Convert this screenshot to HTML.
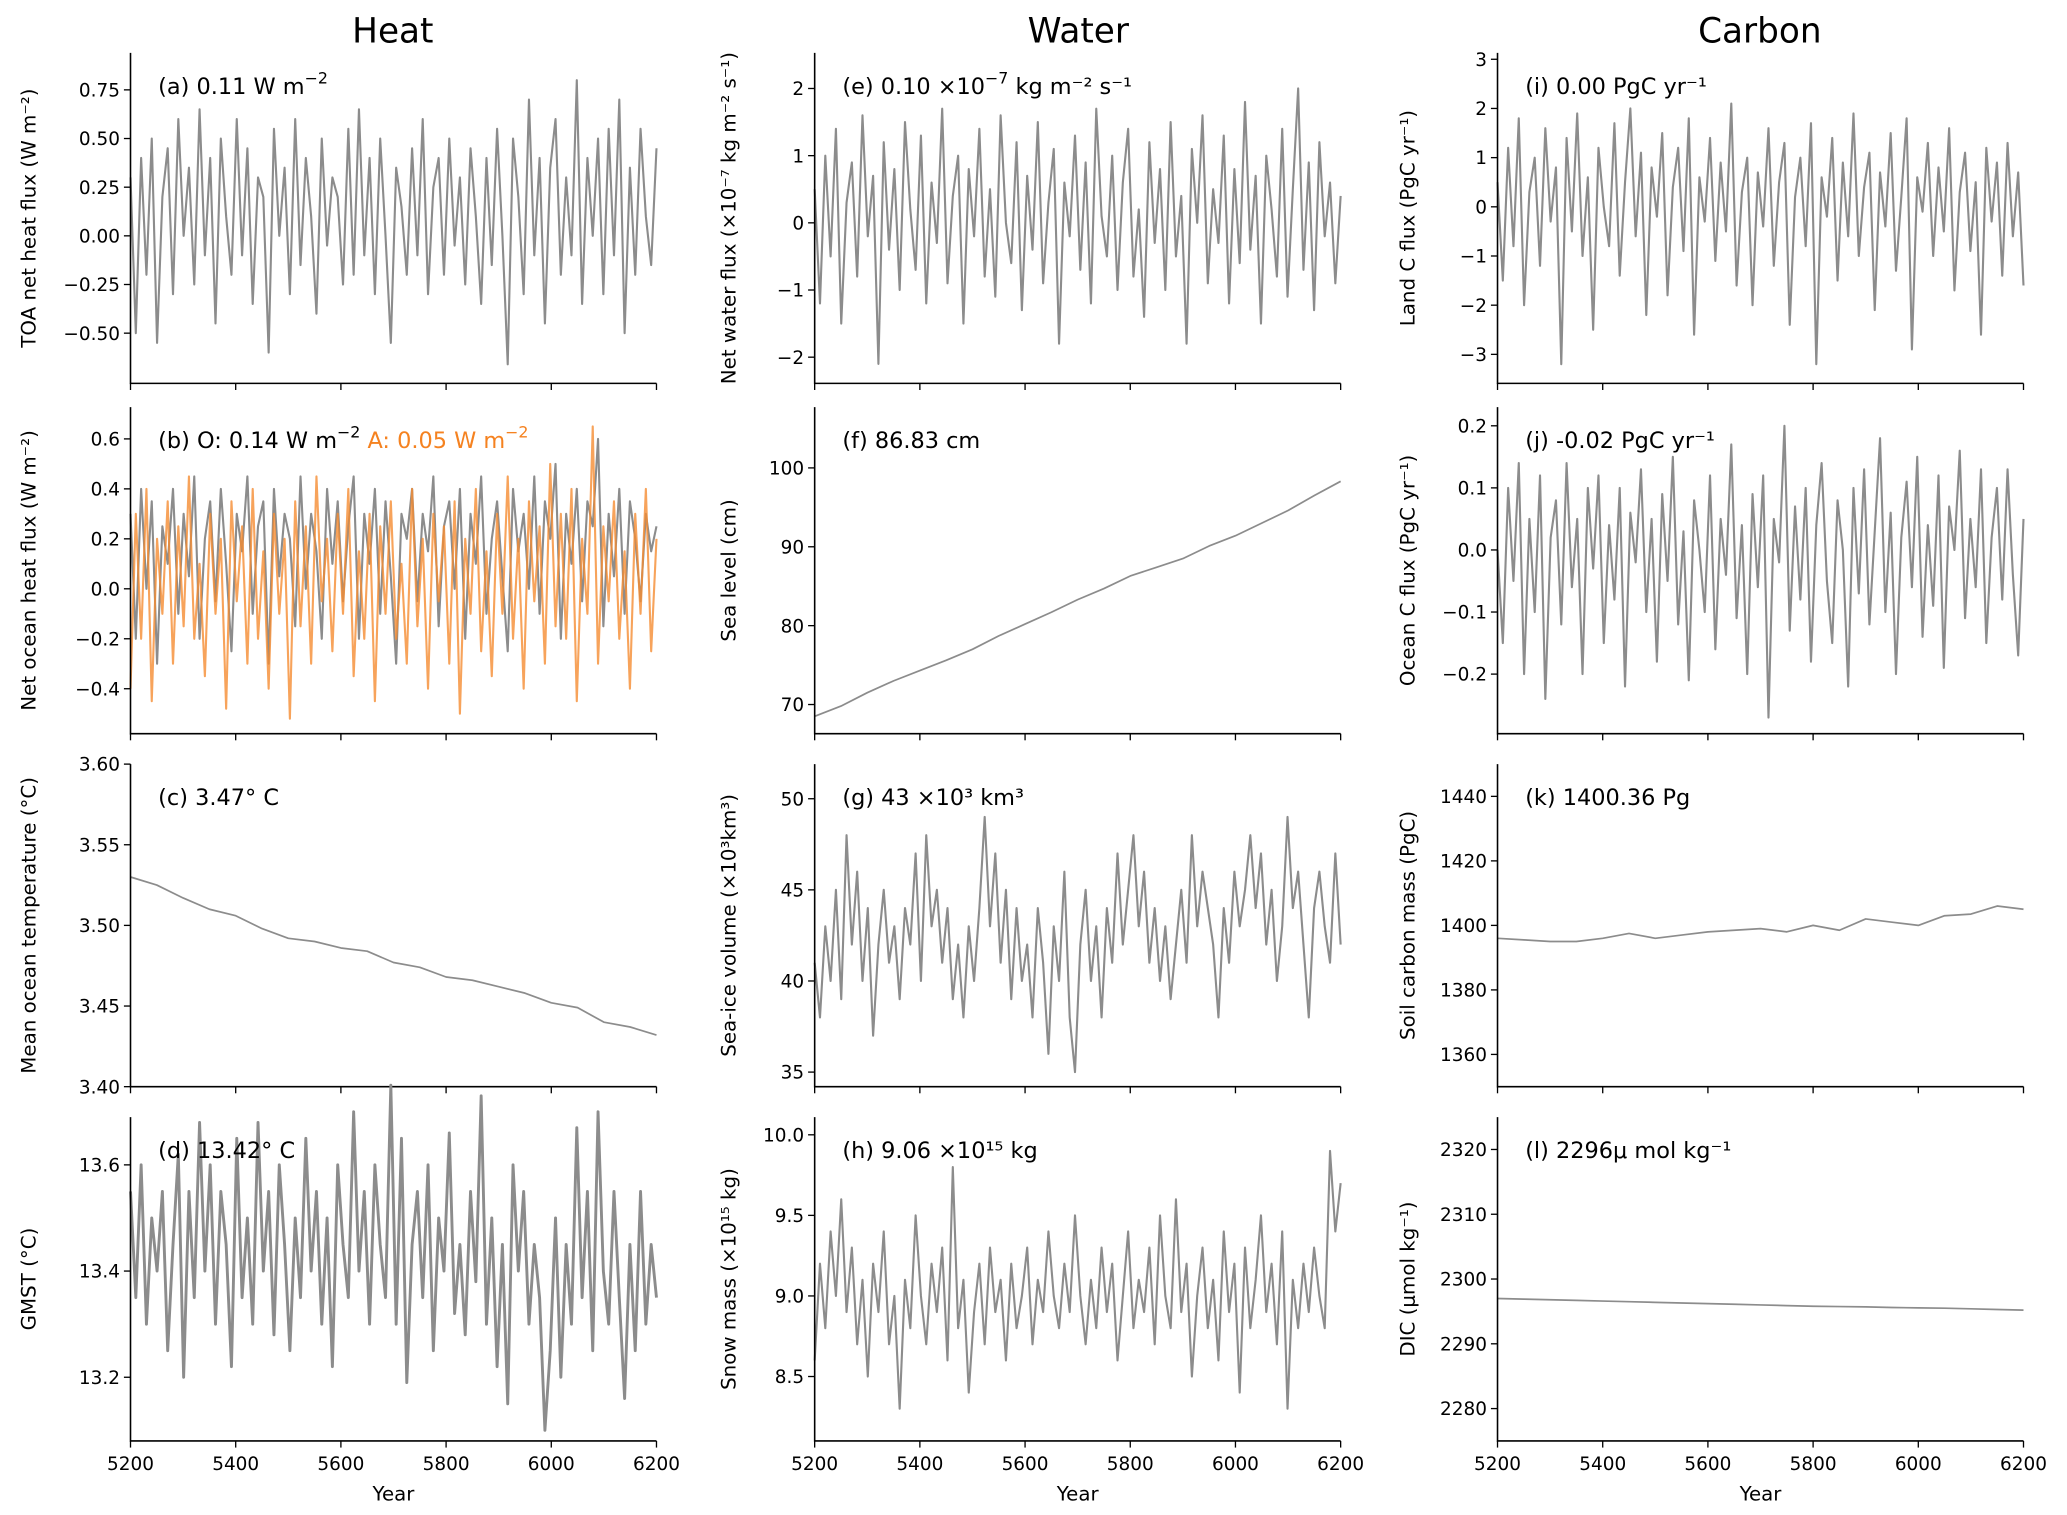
<!DOCTYPE html>
<html><head><meta charset="utf-8"><style>
html,body{margin:0;padding:0;background:#fff}
svg{display:block;font-family:"DejaVu Sans","Liberation Sans",sans-serif}
</style></head><body>
<svg id="fig" width="2067" height="1515" viewBox="0 0 1568 1146" preserveAspectRatio="none" xmlns="http://www.w3.org/2000/svg">
<text x="298" y="32" font-size="26" text-anchor="middle">Heat</text>
<text x="818" y="32" font-size="26" text-anchor="middle">Water</text>
<text x="1335" y="32" font-size="26" text-anchor="middle">Carbon</text>
</svg>
<script>
const years = [5200, 6200];
const xTicks = [5200, 5400, 5600, 5800, 6000, 6200];
const toaFlux = [0.3,-0.5,0.4,-0.2,0.5,-0.55,0.2,0.45,-0.3,0.6,0.0,0.35,-0.25,0.65,-0.1,0.4,-0.45,0.5,0.1,-0.2,0.6,-0.1,0.45,-0.35,0.3,0.2,-0.6,0.55,0.0,0.35,-0.3,0.6,-0.15,0.4,0.1,-0.4,0.5,-0.05,0.3,0.2,-0.25,0.55,-0.2,0.65,-0.1,0.4,-0.3,0.5,0.0,-0.55,0.35,0.15,-0.2,0.45,-0.1,0.6,-0.3,0.25,0.4,-0.2,0.5,-0.05,0.3,-0.25,0.45,0.1,-0.35,0.4,-0.15,0.55,0.0,-0.66,0.5,0.2,-0.3,0.7,-0.1,0.4,-0.45,0.35,0.6,-0.2,0.3,-0.1,0.8,-0.35,0.4,0.0,0.5,-0.3,0.55,-0.1,0.7,-0.5,0.35,-0.2,0.55,0.1,-0.15,0.45];
const oceanHeatO = [0.3,-0.2,0.4,0.0,0.35,-0.3,0.25,0.1,0.4,-0.1,0.3,0.05,0.45,-0.2,0.2,0.35,-0.05,0.4,0.1,-0.25,0.3,0.15,0.45,-0.1,0.25,0.35,-0.3,0.4,0.05,0.3,0.2,-0.15,0.45,0.0,0.3,0.15,-0.2,0.4,0.1,0.35,-0.05,0.25,0.45,-0.2,0.3,0.1,0.4,-0.1,0.35,0.05,-0.3,0.3,0.2,0.4,-0.05,0.3,0.15,0.45,-0.15,0.25,0.35,0.0,0.4,-0.2,0.3,0.1,0.45,-0.1,0.2,0.35,0.05,-0.25,0.4,0.15,0.3,0.0,0.45,-0.1,0.35,0.2,0.5,-0.2,0.3,0.1,0.4,-0.05,0.35,0.25,0.6,-0.15,0.3,0.05,0.4,-0.1,0.35,0.2,-0.05,0.3,0.15,0.25];
const oceanHeatA = [-0.4,0.3,-0.2,0.4,-0.45,0.2,-0.1,0.35,-0.3,0.25,-0.15,0.45,-0.2,0.1,-0.35,0.3,-0.1,0.2,-0.48,0.35,-0.05,0.25,-0.3,0.4,-0.2,0.15,-0.4,0.3,-0.1,0.2,-0.52,0.35,-0.15,0.25,-0.3,0.45,-0.05,0.2,-0.25,0.3,-0.1,0.4,-0.35,0.15,-0.2,0.3,-0.45,0.25,-0.1,0.35,-0.2,0.1,-0.3,0.4,-0.15,0.2,-0.4,0.3,-0.05,0.25,-0.3,0.35,-0.5,0.2,-0.1,0.4,-0.25,0.15,-0.35,0.3,-0.1,0.45,-0.2,0.2,-0.4,0.35,-0.05,0.25,-0.3,0.5,-0.15,0.3,-0.2,0.4,-0.45,0.2,-0.1,0.65,-0.3,0.25,-0.05,0.35,-0.2,0.15,-0.4,0.3,-0.1,0.4,-0.25,0.2];
const oceanTemp = [3.530,3.525,3.517,3.510,3.506,3.498,3.492,3.490,3.486,3.484,3.477,3.474,3.468,3.466,3.462,3.458,3.452,3.449,3.440,3.437,3.432];
const gmst = [13.55,13.35,13.6,13.3,13.5,13.4,13.55,13.25,13.45,13.62,13.2,13.55,13.35,13.68,13.4,13.6,13.3,13.55,13.45,13.22,13.65,13.35,13.5,13.3,13.68,13.4,13.55,13.28,13.6,13.45,13.25,13.5,13.35,13.65,13.4,13.55,13.3,13.5,13.22,13.6,13.45,13.35,13.7,13.4,13.55,13.3,13.6,13.45,13.35,13.75,13.3,13.65,13.19,13.45,13.55,13.35,13.6,13.25,13.5,13.4,13.66,13.32,13.45,13.28,13.55,13.38,13.73,13.3,13.5,13.22,13.45,13.15,13.6,13.4,13.55,13.3,13.45,13.35,13.1,13.25,13.5,13.2,13.45,13.3,13.67,13.35,13.55,13.25,13.7,13.4,13.3,13.55,13.35,13.16,13.45,13.25,13.55,13.3,13.45,13.35];
const waterFlux = [0.5,-1.2,1.0,-0.5,1.4,-1.5,0.3,0.9,-0.8,1.6,-0.2,0.7,-2.1,1.2,-0.4,0.8,-1.0,1.5,0.2,-0.7,1.3,-1.2,0.6,-0.3,1.7,-0.9,0.4,1.0,-1.5,0.8,-0.2,1.4,-0.8,0.5,-1.1,1.6,0.0,-0.6,1.2,-1.3,0.7,-0.4,1.5,-0.9,0.3,1.1,-1.8,0.6,-0.2,1.3,-0.7,0.9,-1.2,1.7,0.1,-0.5,1.0,-1.0,0.6,1.4,-0.8,0.2,-1.4,1.2,-0.3,0.8,-1.0,1.5,-0.5,0.4,-1.8,1.1,0.0,1.6,-0.9,0.5,-0.3,1.3,-1.2,0.8,-0.6,1.8,-0.4,0.7,-1.5,1.0,0.2,-0.8,1.4,-1.1,0.5,2.0,-0.7,0.9,-1.3,1.2,-0.2,0.6,-0.9,0.4];
const seaLevel = [68.5,69.8,71.5,73.0,74.3,75.6,77.0,78.7,80.2,81.7,83.3,84.7,86.3,87.4,88.5,90.1,91.4,93.0,94.6,96.5,98.3];
const seaIce = [41,38,43,40,45,39,48,42,46,40,44,37,42,45,41,43,39,44,42,47,40,48,43,45,41,44,39,42,38,43,40,44,49,43,47,41,45,39,44,40,42,38,44,41,36,43,40,46,38,35,42,45,40,43,38,44,41,47,42,45,48,43,46,41,44,40,43,39,42,45,41,48,43,46,44,42,38,44,41,46,43,45,48,44,47,42,45,40,43,49,44,46,42,38,44,46,43,41,47,42];
const snowMass = [8.6,9.2,8.8,9.4,9.0,9.6,8.9,9.3,8.7,9.1,8.5,9.2,8.9,9.4,8.7,9.0,8.3,9.1,8.8,9.5,9.0,8.7,9.2,8.9,9.3,8.6,9.8,8.8,9.1,8.4,8.9,9.2,8.7,9.3,8.9,9.1,8.6,9.2,8.8,9.0,9.3,8.7,9.1,8.9,9.4,9.0,8.8,9.2,8.9,9.5,9.0,8.7,9.1,8.8,9.3,8.9,9.2,8.6,9.0,9.4,8.8,9.1,8.9,9.3,8.7,9.5,9.0,8.8,9.6,8.9,9.2,8.5,9.0,9.3,8.8,9.1,8.6,9.4,8.9,9.2,8.4,9.3,8.8,9.1,9.5,8.9,9.2,8.7,9.4,8.3,9.1,8.8,9.2,8.9,9.3,9.0,8.8,9.9,9.4,9.7];
const landC = [0.5,-1.5,1.2,-0.8,1.8,-2.0,0.3,1.0,-1.2,1.6,-0.3,0.8,-3.2,1.4,-0.5,1.9,-1.0,0.6,-2.5,1.2,0.0,-0.8,1.7,-1.4,0.5,2.0,-0.6,1.1,-2.2,0.8,-0.2,1.5,-1.8,0.4,1.2,-0.9,1.8,-2.6,0.6,-0.3,1.4,-1.1,0.9,-0.5,2.1,-1.6,0.3,1.0,-2.0,0.7,-0.4,1.6,-1.2,0.5,1.3,-2.4,0.2,1.0,-0.8,1.7,-3.2,0.6,-0.2,1.4,-1.5,0.9,-0.6,1.9,-1.0,0.4,1.1,-2.1,0.7,-0.4,1.5,-1.3,0.2,1.8,-2.9,0.6,-0.1,1.3,-1.0,0.8,-0.5,1.6,-1.7,0.3,1.1,-0.9,0.5,-2.6,1.2,-0.3,0.9,-1.4,1.3,-0.6,0.7,-1.6];
const oceanC = [0.0,-0.15,0.1,-0.05,0.14,-0.2,0.05,-0.1,0.12,-0.24,0.02,0.08,-0.12,0.14,-0.06,0.05,-0.2,0.1,-0.03,0.12,-0.15,0.04,-0.08,0.1,-0.22,0.06,-0.02,0.13,-0.1,0.05,-0.18,0.09,-0.05,0.15,-0.12,0.03,-0.21,0.08,0.0,-0.1,0.12,-0.16,0.05,-0.04,0.17,-0.11,0.04,-0.2,0.09,-0.06,0.12,-0.27,0.05,-0.02,0.2,-0.13,0.07,-0.08,0.1,-0.18,0.04,0.14,-0.05,-0.15,0.08,0.0,-0.22,0.1,-0.07,0.13,-0.12,0.03,0.18,-0.1,0.06,-0.2,0.02,0.11,-0.06,0.15,-0.14,0.04,-0.09,0.12,-0.19,0.07,0.0,0.16,-0.11,0.05,-0.06,0.13,-0.15,0.02,0.1,-0.08,0.13,-0.04,-0.17,0.05];
const soilC = [1396,1395.5,1395,1395,1396,1397.5,1396,1397,1398,1398.5,1399,1398,1400,1398.5,1402,1401,1400,1403,1403.5,1406,1405];
const dic = [2297.0,2296.9,2296.8,2296.7,2296.6,2296.5,2296.4,2296.3,2296.2,2296.1,2296.0,2295.9,2295.8,2295.75,2295.7,2295.6,2295.55,2295.5,2295.4,2295.3,2295.2];

const NS = "http://www.w3.org/2000/svg";
const svg = document.getElementById("fig");
const cols = [{x0:99,x1:498,lx:22},{x0:618,x1:1017,lx:553},{x0:1136,x1:1535,lx:1068}];
const rows = [{t:40,b:290},{t:308,b:555},{t:578,b:822},{t:845,b:1090}];

const panels = [
 {c:0,r:0,name:"toa-flux",lo:-0.758,hi:0.94,ticks:[-0.50,-0.25,0.00,0.25,0.50,0.75],dec:2,sw:1.6,series:[toaFlux],lab:"(a) 0.11 W m",sup:"\u22122",ylab:"TOA net heat flux (W m\u207B\u00B2)"},
 {c:0,r:1,name:"ocean-heat-flux",lo:-0.58,hi:0.727,ticks:[-0.4,-0.2,0.0,0.2,0.4,0.6],dec:1,sw:1.6,series:[oceanHeatO,oceanHeatA],lab:"(b) O: 0.14 W m",sup:"\u22122",ylab:"Net ocean heat flux (W m\u207B\u00B2)"},
 {c:0,r:2,name:"ocean-temperature",lo:3.40,hi:3.60,ticks:[3.40,3.45,3.50,3.55,3.60],dec:2,sw:1.3,series:[oceanTemp],lab:"(c) 3.47\u00B0 C",ylab:"Mean ocean temperature (\u00B0C)"},
 {c:0,r:3,name:"gmst",lo:13.08,hi:13.69,ticks:[13.2,13.4,13.6],dec:1,sw:2.2,series:[gmst],lab:"(d) 13.42\u00B0 C",ylab:"GMST (\u00B0C)"},
 {c:1,r:0,name:"water-flux",lo:-2.39,hi:2.53,ticks:[-2,-1,0,1,2],dec:0,sw:1.6,series:[waterFlux],lab:"(e) 0.10 \u00D710",sup:"\u22127",lab2:" kg m\u207B\u00B2 s\u207B\u00B9",ylab:"Net water flux (\u00D710\u207B\u2077 kg m\u207B\u00B2 s\u207B\u00B9)"},
 {c:1,r:1,name:"sea-level",lo:66.3,hi:107.7,ticks:[70,80,90,100],dec:0,sw:1.3,series:[seaLevel],lab:"(f) 86.83 cm",ylab:"Sea level (cm)"},
 {c:1,r:2,name:"sea-ice-volume",lo:34.2,hi:51.9,ticks:[35,40,45,50],dec:0,sw:1.6,series:[seaIce],lab:"(g) 43 \u00D710\u00B3 km\u00B3",ylab:"Sea-ice volume (\u00D710\u00B3km\u00B3)"},
 {c:1,r:3,name:"snow-mass",lo:8.1,hi:10.11,ticks:[8.5,9.0,9.5,10.0],dec:1,sw:1.6,series:[snowMass],lab:"(h) 9.06 \u00D710\u00B9\u2075 kg",ylab:"Snow mass (\u00D710\u00B9\u2075 kg)"},
 {c:2,r:0,name:"land-c-flux",lo:-3.59,hi:3.13,ticks:[-3,-2,-1,0,1,2,3],dec:0,sw:1.6,series:[landC],lab:"(i) 0.00 PgC yr\u207B\u00B9",ylab:"Land C flux (PgC yr\u207B\u00B9)"},
 {c:2,r:1,name:"ocean-c-flux",lo:-0.296,hi:0.23,ticks:[-0.2,-0.1,0.0,0.1,0.2],dec:1,sw:1.6,series:[oceanC],lab:"(j) -0.02 PgC yr\u207B\u00B9",ylab:"Ocean C flux (PgC yr\u207B\u00B9)"},
 {c:2,r:2,name:"soil-carbon",lo:1350,hi:1450,ticks:[1360,1380,1400,1420,1440],dec:0,sw:1.3,series:[soilC],lab:"(k) 1400.36 Pg",ylab:"Soil carbon mass (PgC)"},
 {c:2,r:3,name:"dic",lo:2275,hi:2325,ticks:[2280,2290,2300,2310,2320],dec:0,sw:1.3,series:[dic],lab:"(l) 2296\u03BC mol kg\u207B\u00B9",ylab:"DIC (\u03BCmol kg\u207B\u00B9)"}
];

function mk(tag, attrs, text){
  const e = document.createElementNS(NS, tag);
  for (const k in attrs) e.setAttribute(k, attrs[k]);
  if (text !== undefined) e.textContent = text;
  svg.appendChild(e);
  return e;
}

panels.forEach(p => {
  const C = cols[p.c], R = rows[p.r];
  const xs = v => C.x0 + (v - years[0]) / (years[1] - years[0]) * (C.x1 - C.x0);
  const ys = v => R.b - (v - p.lo) / (p.hi - p.lo) * (R.b - R.t);
  const colors = ["#8c8c8c", "rgba(245,140,50,0.8)"];
  p.series.forEach((s, si) => {
    const pts = s.map((v, i) => xs(years[0] + i * (years[1] - years[0]) / (s.length - 1)).toFixed(2) + "," + ys(v).toFixed(2)).join(" ");
    const pl = mk("polyline", {points: pts, fill: "none", stroke: colors[si], "stroke-width": p.sw, "stroke-linejoin": "round"});
    
    
  });
  const ax = mk("path", {d: `M${C.x0},${R.t}V${R.b}H${C.x1}`, fill: "none", stroke: "#000", "stroke-width": 1.2});
  
  
  p.ticks.forEach(t => {
    const y = ys(t);
    mk("line", {x1: C.x0 - 5, x2: C.x0, y1: y, y2: y, stroke: "#000", "stroke-width": 1});
    const tl = mk("text", {x: C.x0 - 8, y: y + 5, "font-size": 14, "text-anchor": "end"}, (t < 0 ? "\u2212" : "") + Math.abs(t).toFixed(p.dec));
    
    
  });
  xTicks.forEach(t => {
    const x = xs(t);
    mk("line", {x1: x, x2: x, y1: R.b, y2: R.b + 5, stroke: "#000", "stroke-width": 1});
    if (p.r === 3) {
      const xl = mk("text", {x: x, y: R.b + 22, "font-size": 14, "text-anchor": "middle"}, String(t));
      
      
    }
  });
  if (p.r === 3) {
    const xt = mk("text", {x: (C.x0 + C.x1) / 2, y: R.b + 45, "font-size": 15, "text-anchor": "middle"}, "Year");
    
    
  }
  const cy = (R.t + R.b) / 2;
  const yl = mk("text", {x: C.lx, y: cy, "font-size": 15, "text-anchor": "middle", transform: `rotate(-90 ${C.lx} ${cy})`, dy: 5}, p.ylab);
  
  
  const an = mk("text", {x: C.x0 + 21, y: R.t + 31, "font-size": 17});
  
  
  const t1 = document.createElementNS(NS, "tspan"); t1.textContent = p.lab; an.appendChild(t1);
  if (p.sup) {
    const t2 = document.createElementNS(NS, "tspan");
    t2.setAttribute("dy", -8); t2.setAttribute("font-size", 12); t2.textContent = p.sup; an.appendChild(t2);
    if (p.lab2) {
      const t3 = document.createElementNS(NS, "tspan");
      t3.setAttribute("dy", 8); t3.textContent = p.lab2; an.appendChild(t3);
    }
  }
  if (p.name === "ocean-heat-flux") {
    const t4 = document.createElementNS(NS, "tspan");
    t4.setAttribute("dy", 8); t4.setAttribute("fill", "#f58220"); t4.textContent = "  A: 0.05 W m"; an.appendChild(t4);
    const t5 = document.createElementNS(NS, "tspan");
    t5.setAttribute("dy", -8); t5.setAttribute("font-size", 12); t5.setAttribute("fill", "#f58220"); t5.textContent = "\u22122"; an.appendChild(t5);
  }
});
</script>
</body></html>
